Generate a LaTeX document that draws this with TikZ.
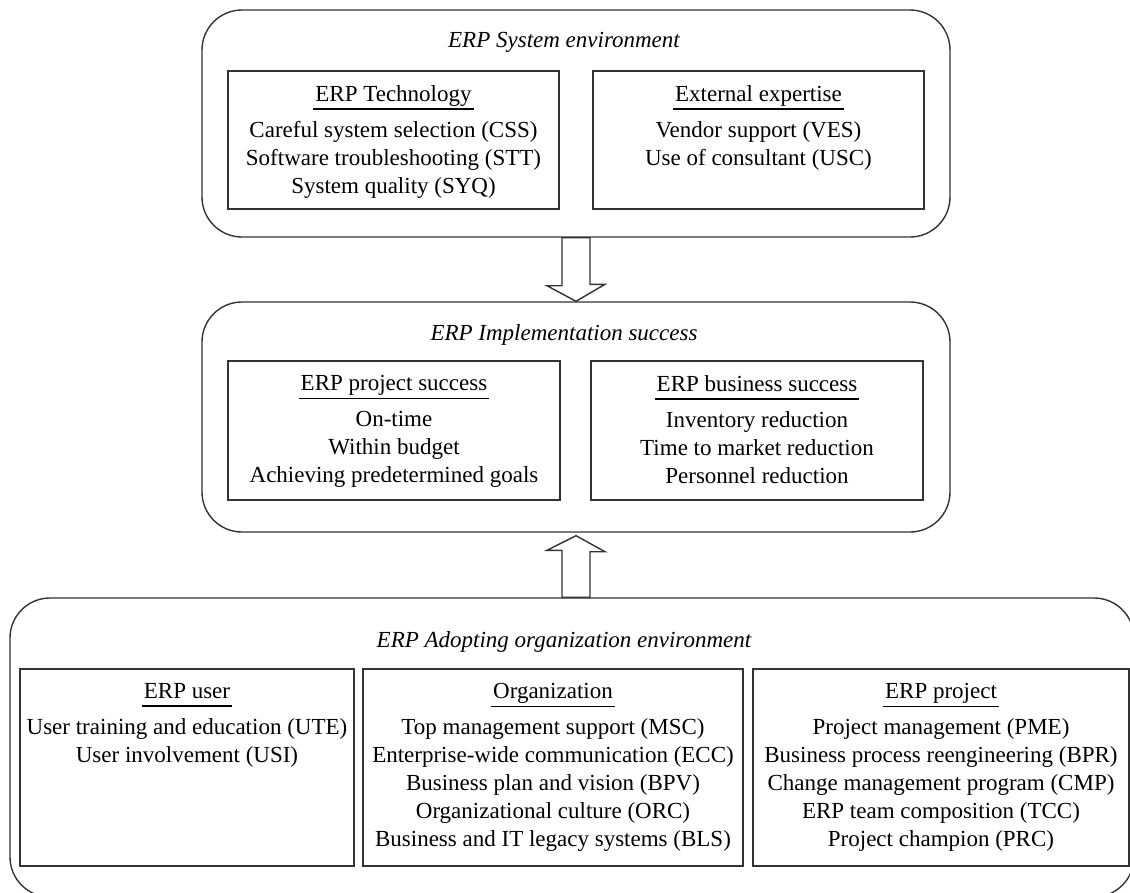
\documentclass[tikz,border=0pt]{standalone}
\usepackage{fontspec}
\setmainfont{Liberation Serif}
\usepackage{tikz}
\usetikzlibrary{positioning,calc}

% underlined heading of a factor box
\newcommand{\hdr}[1]{\setbox0\hbox{#1}\rlap{\kern-2pt\rule[-8.5pt]{\dimexpr\wd0+4pt\relax}{1.6pt}}\box0}

\begin{document}
\begin{tikzpicture}[x=1pt, y=1pt,
	every node/.style={font=\fontsize{23}{28}\selectfont},
	envbox/.style={draw=black!80, rounded corners=40pt, line width=1.4pt, inner sep=0pt},
	factbox/.style={draw=black!80, line width=1.6pt, inner sep=0pt},
	factlist/.style={align=center, inner sep=0pt},
	envtitle/.style={font=\fontsize{23}{28}\selectfont\itshape, anchor=base, inner sep=0pt},
	hollow/.style={draw=black!80, fill=white, line width=1.4pt}]
					
					\useasboundingbox (0,0) rectangle (1130,-892);
					\clip (0,0) rectangle (1130,-892);
					
					% Outer boxes
					\node[envbox, minimum width=748, minimum height=227] (sysenv) at (576,-123.5) {};
					\node[envbox, minimum width=748, minimum height=230] (impl) at (576,-417) {};
					\node[envbox, minimum width=1124, minimum height=299] (adopt) at (572,-747.5) {};
					
					\node[envtitle] (sysenvtitle) at (564,-47) {ERP System environment};
					\node[envtitle] (impltitle) at (564,-340) {ERP Implementation success};
					\node[envtitle] (adopttitle) at (564,-647) {ERP Adopting organization environment};
					
					% Boxes inside
					\node[factbox, minimum width=331, minimum height=138] (tech) at (393.5,-140) {};
					\node[factbox, minimum width=331, minimum height=138] (expert) at (758.5,-140) {};
					\node[factbox, minimum width=332, minimum height=139] (projsucc) at (394,-430.5) {};
					\node[factbox, minimum width=332, minimum height=139] (bussucc) at (757,-430.5) {};
					\node[factbox, minimum width=334, minimum height=197] (user) at (187,-767.5) {};
					\node[factbox, minimum width=380, minimum height=197] (orga) at (553,-767.5) {};
					\node[factbox, minimum width=376, minimum height=197] (erpproj) at (941,-767.5) {};
					
					% Factor lists
					\node[factlist, below=15pt of tech.north] (techtxt) {\hdr{ERP Technology}\\[8pt]
						Careful system selection (CSS)\\ Software troubleshooting (STT)\\ System quality (SYQ)};
					\node[factlist, below=15pt of expert.north] (experttxt) {\hdr{External expertise}\\[8pt]
						Vendor support (VES)\\ Use of consultant (USC)};
					\node[factlist, below=15pt of projsucc.north] (projsucctxt) {\hdr{ERP project success}\\[8pt]
						On-time\\ Within budget\\ Achieving predetermined goals};
					\node[factlist, below=15pt of bussucc.north] (bussucctxt) {\hdr{ERP business success}\\[8pt]
						Inventory reduction\\ Time to market reduction\\ Personnel reduction};
					\node[factlist, below=15pt of user.north] (usertxt) {\hdr{ERP user}\\[8pt]
						User training and education (UTE)\\ User involvement (USI)};
					\node[factlist, below=15pt of orga.north] (orgatxt) {\hdr{Organization}\\[8pt]
						Top management support (MSC)\\ Enterprise-wide communication (ECC)\\ Business plan and vision (BPV)\\
						Organizational culture (ORC)\\ Business and IT legacy systems (BLS)};
					\node[factlist, below=15pt of erpproj.north] (erpprojtxt) {\hdr{ERP project}\\[8pt]
						Project management (PME)\\ Business process reengineering (BPR)\\ Change management program (CMP)\\
						ERP team composition (TCC)\\ Project champion (PRC)};
					
					% Arrows
					\draw[hollow] ([xshift=-14pt]sysenv.south) -- ++(0,-48) -- ++(-15,0) -- (impl.north)
						-- ++(29,17) -- ++(-15,0) -- ([xshift=14pt]sysenv.south) -- cycle;
					\draw[hollow] ([xshift=-14pt]impl.south |- adopt.north) -- ++(0,47) -- ++(-15,0) -- ([yshift=-3pt]impl.south)
						-- ++(29,-16) -- ++(-15,0) -- ([xshift=14pt]impl.south |- adopt.north) -- cycle;
					
			\end{tikzpicture}
\end{document}
